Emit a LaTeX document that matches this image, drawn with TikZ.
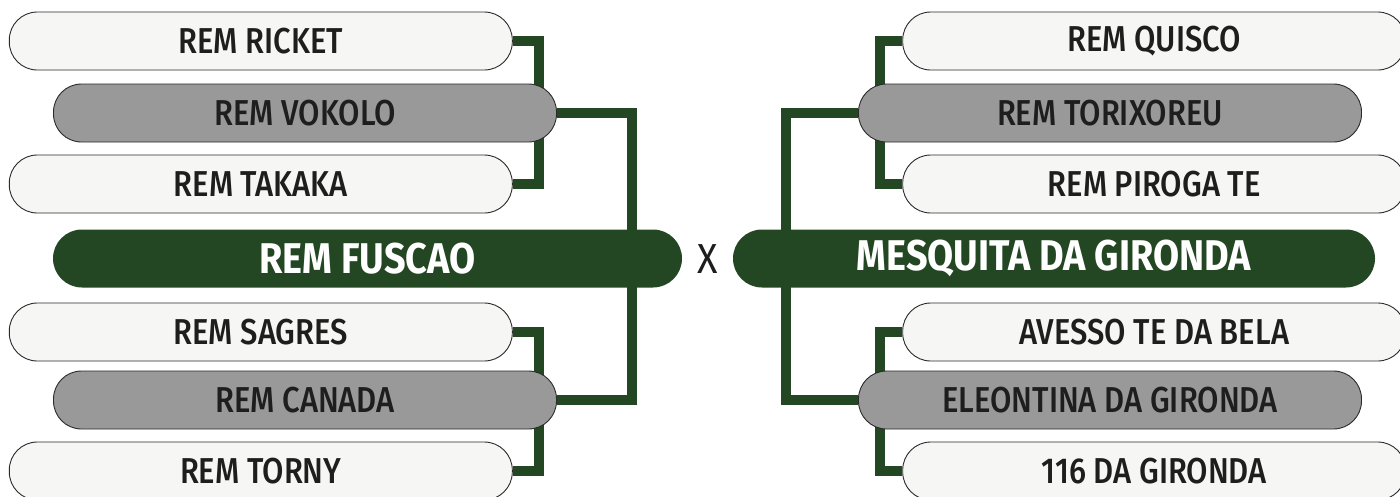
\documentclass[tikz,border=0pt]{standalone}
\usepackage{fontspec}
\setmainfont{Fira Sans}
\newfontfamily\medf{Fira Sans}[UprightFont=* Medium, FakeStretch=0.86]
\newfontfamily\boldf{Fira Sans}[UprightFont=* Bold, FakeStretch=0.88]
\newfontfamily\regf{Fira Sans}[FakeStretch=0.9]
\definecolor{brgreen}{HTML}{234722}
\definecolor{lightbox}{HTML}{F6F6F4}
\definecolor{graybox}{HTML}{999999}
\definecolor{edgecol}{HTML}{2A2A2A}
\definecolor{txtcol}{HTML}{1E1E1E}
\pgfdeclarelayer{bglayer}
\pgfdeclarelayer{links}
\pgfsetlayers{bglayer,links,main}
\begin{document}
\begin{tikzpicture}[x=1pt,y=-1pt,
  team/.style={rounded corners=28pt, minimum height=58pt, inner sep=0pt,
    draw=edgecol, line width=0.9pt, text=txtcol,
    font=\medf\fontsize{36}{36}\selectfont},
  seedbox/.style={team, fill=lightbox, minimum width=503pt},
  midbox/.style={team, fill=graybox, minimum width=503pt},
  finalbox/.style={rounded corners=29pt, minimum height=58pt, inner sep=0pt,
    fill=brgreen, text=white, font=\boldf\fontsize{43}{43}\selectfont},
  link/.style={draw=brgreen, line width=10pt, line join=miter}]
\useasboundingbox (0,0) rectangle (1400,496);
\clip (0,0) rectangle (1400,496);
\begin{pgfonlayer}{bglayer}
  \fill[white] (0,0) rectangle (1400,496);
\end{pgfonlayer}

% left side
\node[seedbox] (l1) at (260.8,41) {REM RICKET};
\node[midbox]  (l2) at (305,113) {REM VOKOLO};
\node[seedbox] (l3) at (260.8,184) {REM TAKAKA};
\node[finalbox, minimum width=629pt] (lf) at (367.5,258.5) {REM FUSCAO};
\node[seedbox] (l5) at (260.8,332) {REM SAGRES};
\node[midbox]  (l6) at (305,400) {REM CANADA};
\node[seedbox] (l7) at (260.8,471) {REM TORNY};

% right side
\node[seedbox] (r1) at (1154.2,41) {REM QUISCO};
\node[midbox]  (r2) at (1110,113) {REM TORIXOREU};
\node[seedbox] (r3) at (1154.2,184) {REM PIROGA TE};
\node[finalbox, minimum width=642pt] (rf) at (1054,258.5) {MESQUITA DA GIRONDA};
\node[seedbox] (r5) at (1154.2,332) {AVESSO TE DA BELA};
\node[midbox]  (r6) at (1110,400) {ELEONTINA DA GIRONDA};
\node[seedbox] (r7) at (1154.2,471) {116 DA GIRONDA};

\node[text=txtcol, font=\regf\fontsize{42}{42}\selectfont, inner sep=0pt] (vs) at (707.5,259) {X};

\coordinate (lx1) at (538.7,0);
\coordinate (lx2) at (632,0);
\coordinate (rx1) at (879.7,0);
\coordinate (rx2) at (785.7,0);

\begin{pgfonlayer}{links}
  \draw[link] (l1.east) -- (l1.east -| lx1) |- (l3.east);
  \draw[link] (l5.east) -- (l5.east -| lx1) |- (l7.east);
  \draw[link] (l2.east) -- (l2.east -| lx2) |- (l6.east);
  \draw[link] (r1.west) -- (r1.west -| rx1) |- (r3.west);
  \draw[link] (r5.west) -- (r5.west -| rx1) |- (r7.west);
  \draw[link] (r2.west) -- (r2.west -| rx2) |- (r6.west);
\end{pgfonlayer}
\end{tikzpicture}
\end{document}
